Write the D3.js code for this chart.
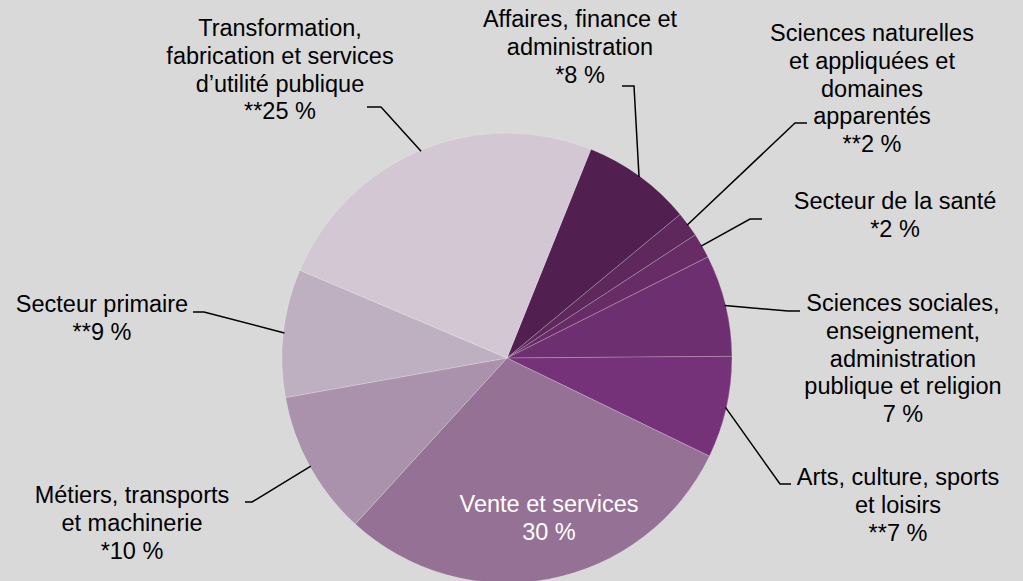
<!DOCTYPE html>
<html>
<head>
<meta charset="utf-8">
<script src="https://cdn.jsdelivr.net/npm/d3@7"></script>
<style>
  html, body { margin: 0; padding: 0; background: #d9d9d9; }
  svg { display: block; font-family: "Liberation Sans", Arial, sans-serif; }
</style>
</head>
<body>
<div id="chart"></div>
<script>
// slices, clockwise from the top-right
const categories = [
    "Affaires, finance et administration",
    "Sciences naturelles et appliquées et domaines apparentés",
    "Secteur de la santé",
    "Sciences sociales, enseignement, administration publique et religion",
    "Arts, culture, sports et loisirs",
    "Vente et services",
    "Métiers, transports et machinerie",
    "Secteur primaire",
    "Transformation, fabrication et services d’utilité publique"
];
const shares = [7.9, 1.8, 1.8, 7.3, 7.3, 29.6, 10.4, 9.2, 24.7];
const percentLabels = ["*8 %", "**2 %", "*2 %", "7 %", "**7 %", "30 %", "*10 %", "**9 %", "**25 %"];
const labelLines = [
    ["Affaires, finance et", "administration"],
    ["Sciences naturelles", "et appliquées et", "domaines", "apparentés"],
    ["Secteur de la santé"],
    ["Sciences sociales,", "enseignement,", "administration", "publique et religion"],
    ["Arts, culture, sports", "et loisirs"],
    ["Vente et services"],
    ["Métiers, transports", "et machinerie"],
    ["Secteur primaire"],
    ["Transformation,", "fabrication et services", "d’utilité publique"]
];
const colors = ["#512050", "#5e285c", "#672c66", "#6e2f70", "#763278",
                "#967196", "#aa92ac", "#beafc1", "#d3c7d4"];

// label layout (x centre, first baseline, leader elbow + stub end)
const labelPos = [
    { x: 580, y: 27, stub: [[622, 86], [634, 86]] },
    { x: 872, y: 41, stub: [[807, 123], [795, 123]] },
    { x: 895, y: 209, stub: [[762, 219], [750, 219]] },
    { x: 903, y: 311, stub: [[800, 311], [788, 311]] },
    { x: 898, y: 485, stub: [[791, 484], [780, 484]] },
    { x: 549, y: 512, stub: null },
    { x: 132, y: 503, stub: [[245, 502], [252, 502]] },
    { x: 102, y: 312, stub: [[193, 312], [204, 312]] },
    { x: 280, y: 36, stub: [[367, 107], [381, 107]] }
];

const width = 1023, height = 581;
const cx = 507, cy = 358, radius = 225;
const lineH = 27.8;

const svg = d3.select("#chart").append("svg")
    .attr("width", width)
    .attr("height", height);

svg.append("rect")
    .attr("width", width)
    .attr("height", height)
    .attr("fill", "#d9d9d9");

const startAngle = 21.9 * Math.PI / 180;
const pie = d3.pie().sort(null)
    .startAngle(startAngle)
    .endAngle(startAngle + 2 * Math.PI);
const arcs = pie(shares);

const arc = d3.arc().innerRadius(0).outerRadius(radius);
const edgeArc = d3.arc().innerRadius(radius - 1).outerRadius(radius - 1);

const g = svg.append("g").attr("transform", `translate(${cx},${cy})`);

g.selectAll("path.slice")
    .data(arcs)
    .enter()
    .append("path")
    .attr("class", "slice")
    .attr("d", arc)
    .attr("fill", (d, i) => colors[i])
    .attr("stroke", "rgba(255,255,255,0.3)")
    .attr("stroke-width", 0.7);

// leader lines
arcs.forEach((d, i) => {
    const p = labelPos[i];
    if (!p.stub) return;
    const c = edgeArc.centroid(d);
    const pts = [p.stub[0], p.stub[1], [c[0] + cx, c[1] + cy]];
    svg.append("path")
        .attr("d", d3.line()(pts))
        .attr("fill", "none")
        .attr("stroke", "#000")
        .attr("stroke-width", 1.5);
});

// labels
arcs.forEach((d, i) => {
    const p = labelPos[i];
    const lines = labelLines[i].concat([percentLabels[i]]);
    const t = svg.append("text")
        .attr("text-anchor", "middle")
        .attr("font-size", "23.5px")
        .attr("fill", i === 5 ? "#ffffff" : "#000000");
    lines.forEach((s, k) => {
        t.append("tspan")
            .attr("x", p.x)
            .attr("y", p.y + k * lineH)
            .text(s);
    });
});
</script>
</body>
</html>
